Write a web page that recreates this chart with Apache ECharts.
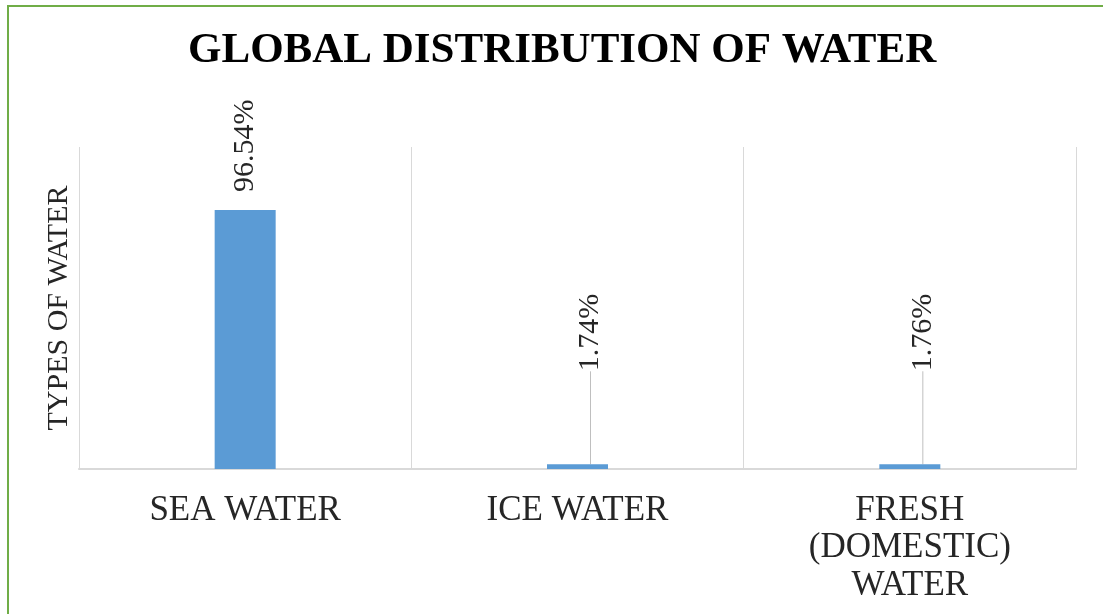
<!DOCTYPE html>
<html>
<head>
<meta charset="utf-8">
<title>Global Distribution of Water</title>
<script src="https://cdn.jsdelivr.net/npm/echarts@6/dist/echarts.min.js"></script>
<style>
  html, body { margin: 0; padding: 0; background: #ffffff; }
  #chart { width: 1103px; height: 614px; }
</style>
</head>
<body>
<div id="chart"></div>
<script>
// Share of the world's water by type (percent)
const categories = ['SEA WATER', 'ICE WATER', 'FRESH\n(DOMESTIC)\nWATER'];
const shares = [96.54, 1.74, 1.76];
const valueMax = 120;

const SERIF = '"Liberation Serif", "Times New Roman", serif';

// tiny bars get their label lifted above the axis with a leader line
const isSmall = v => v < 10;
const barData = shares.map(v => ({ value: v, labelLine: { show: isSmall(v) } }));

const chart = echarts.init(document.getElementById('chart'), null, { renderer: 'canvas' });

chart.setOption({
  backgroundColor: '#ffffff',
  animation: false,
  title: {
    text: 'GLOBAL DISTRIBUTION OF WATER',
    left: 183,
    top: 24,
    textStyle: {
      fontFamily: SERIF,
      fontWeight: 'bold',
      fontSize: 43,
      color: '#000000'
    }
  },
  graphic: [{
    type: 'rect',
    silent: true,
    shape: { x: 8, y: 6, width: 1200, height: 700 },
    style: { fill: 'none', stroke: '#70AD47', lineWidth: 2 }
  }],
  grid: { left: 79, right: 27, top: 147, bottom: 145 },
  xAxis: {
    type: 'category',
    data: categories,
    axisLine: { lineStyle: { color: '#d9d9d9', width: 2 } },
    axisTick: { show: false },
    splitLine: { show: true, lineStyle: { color: '#d9d9d9', width: 1 } },
    axisLabel: {
      fontFamily: SERIF,
      fontSize: 35,
      lineHeight: 37.5,
      color: '#262626',
      margin: 23,
      interval: 0
    }
  },
  yAxis: {
    type: 'value',
    min: 0,
    max: valueMax,
    name: 'TYPES OF WATER',
    nameLocation: 'middle',
    nameRotate: 90,
    nameGap: 5,
    nameTextStyle: { fontFamily: SERIF, fontSize: 30, color: '#262626' },
    axisLine: { show: false },
    axisTick: { show: false },
    axisLabel: { show: false },
    splitLine: { show: false }
  },
  series: [{
    type: 'bar',
    data: barData,
    barWidth: 61,
    itemStyle: { color: '#5B9BD5' },
    label: {
      show: true,
      position: 'top',
      rotate: 90,
      align: 'left',
      verticalAlign: 'middle',
      distance: 18,
      fontFamily: SERIF,
      fontSize: 30,
      color: '#262626',
      formatter: p => p.value.toFixed(2) + '%'
    },
    labelLine: {
      show: false,
      lineStyle: { color: '#bfbfbf', width: 1 }
    },
    // offsets are in the rotated label's frame: dx runs up the page, dy runs right
    labelLayout: function (params) {
      if (isSmall(shares[params.dataIndex])) {
        return { dx: 75, dy: 13 };
      }
      return {};
    }
  }]
});
</script>
</body>
</html>
